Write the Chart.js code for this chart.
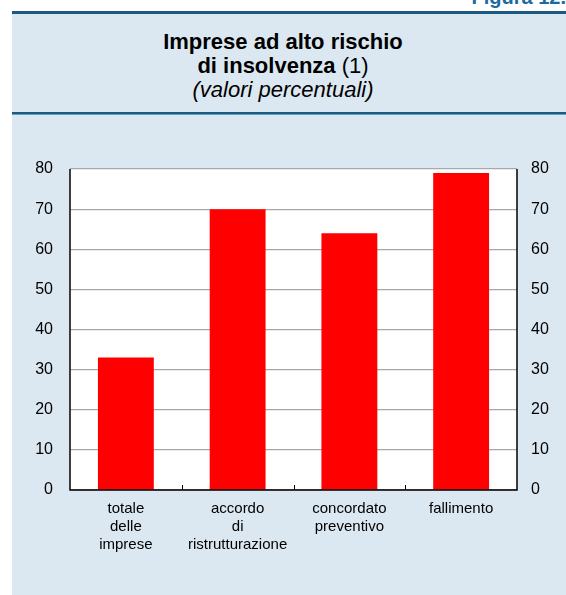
<!DOCTYPE html>
<html>
<head>
<meta charset="utf-8">
<script src="https://cdn.jsdelivr.net/npm/chart.js@4/dist/chart.umd.min.js"></script>
<style>
  html, body { margin:0; padding:0; width:566px; height:595px; overflow:hidden; background:#ffffff; font-family:"Liberation Sans", Arial, sans-serif; }
  #panel { position:absolute; left:12px; top:11px; width:554px; height:584px; background:#dce8f1; border-top:3px solid #1b5b82; box-sizing:border-box; }
  #fig { position:absolute; right:0px; top:-14px; font-size:20px; font-weight:bold; color:#1b6aa0; }
  #title { position:absolute; left:0; top:30px; width:566px; text-align:center; font-size:22px; line-height:24px; color:#000; }
  #rule { position:absolute; left:12px; top:112px; width:554px; height:2px; background:#1b5b82; border-bottom:1px solid #6c9dbd; }
  #wrap { position:absolute; left:0; top:0; width:566px; height:595px; }
</style>
</head>
<body>
<div id="panel"></div>
<div id="fig">Figura 12.</div>
<div id="title"><b>Imprese ad alto rischio</b><br><b>di insolvenza</b> (1)<br><i>(valori percentuali)</i></div>
<div id="rule"></div>
<div id="wrap"><canvas id="c" width="566" height="595"></canvas></div>
<script>
const categories = [["totale","delle","imprese"],["accordo","di","ristrutturazione"],["concordato","preventivo"],["fallimento"]];
const values = [33, 70, 64, 79];
const yTicks = [0, 10, 20, 30, 40, 50, 60, 70, 80];

const bgPlugin = {
  id: 'bg',
  beforeDraw(chart) {
    const a = chart.chartArea, ctx = chart.ctx;
    ctx.save();
    ctx.fillStyle = '#ffffff';
    ctx.fillRect(a.left, a.top, a.right - a.left, a.bottom - a.top);
    ctx.restore();
  },
  afterDatasetsDraw(chart) {
    const a = chart.chartArea, ctx = chart.ctx, x = chart.scales.x;
    ctx.save();
    ctx.strokeStyle = '#000';
    ctx.lineWidth = 1.5;
    ctx.beginPath();
    ctx.moveTo(a.left, a.top); ctx.lineTo(a.left, a.bottom); ctx.lineTo(a.right, a.bottom); ctx.lineTo(a.right, a.top);
    ctx.stroke();
    ctx.lineWidth = 1;
    for (let i = 1; i < categories.length; i++) {
      const px = Math.round((x.getPixelForValue(i - 1) + x.getPixelForValue(i)) / 2) + 0.5;
      ctx.beginPath(); ctx.moveTo(px, a.bottom); ctx.lineTo(px, a.bottom - 5); ctx.stroke();
    }
    ctx.restore();
  }
};

new Chart(document.getElementById('c'), {
  type: 'bar',
  data: {
    labels: categories,
    datasets: [{ data: values, backgroundColor: '#ff0000', borderWidth: 0, categoryPercentage: 1.0, barPercentage: 0.5 }]
  },
  options: {
    responsive: false,
    animation: false,
    devicePixelRatio: 1,
    layout: { padding: { left: 12, right: 0, top: 169, bottom: 0 } },
    plugins: { legend: { display: false }, tooltip: { enabled: false } },
    scales: {
      x: {
        grid: { display: false, drawTicks: false },
        border: { display: false },
        ticks: { color: '#000', font: { family: 'Liberation Sans', size: 15 }, padding: 10, maxRotation: 0, autoSkip: false },
        afterFit(s) { s.height = 105; }
      },
      y: {
        position: 'left', min: 0, max: 80,
        afterBuildTicks(s) { s.ticks = yTicks.map(v => ({ value: v })); },
        grid: { color: '#a8a8a8', lineWidth: 1.2, drawTicks: false },
        border: { display: false },
        ticks: { color: '#000', font: { family: 'Liberation Sans', size: 16 }, padding: 17 },
        afterFit(s) { s.width = 58; }
      },
      y2: {
        position: 'right', min: 0, max: 80,
        afterBuildTicks(s) { s.ticks = yTicks.map(v => ({ value: v })); },
        grid: { display: false, drawTicks: false },
        border: { display: false },
        ticks: { color: '#000', font: { family: 'Liberation Sans', size: 16 }, padding: 14 },
        afterFit(s) { s.width = 49; }
      }
    }
  },
  plugins: [bgPlugin]
});
</script>
</body>
</html>
